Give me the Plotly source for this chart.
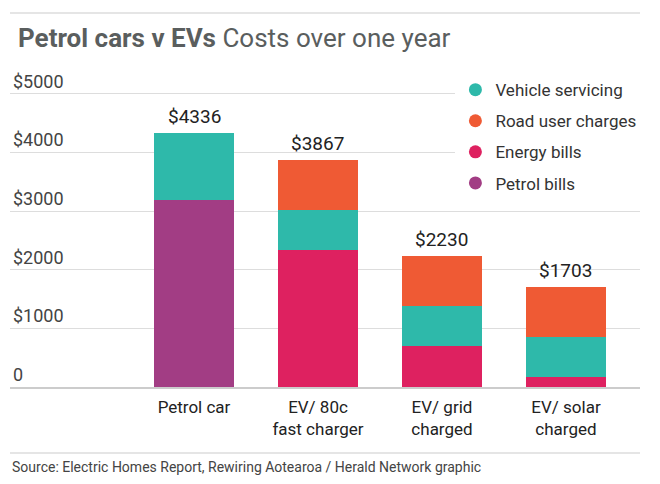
import plotly.graph_objects as go

categories = ["Petrol car", "EV/ 80c<br>fast charger", "EV/ grid<br>charged", "EV/ solar<br>charged"]
petrol_bills = [3186, 0, 0, 0]
energy_bills = [0, 2341, 704, 177]
vehicle_servicing = [1150, 680, 680, 680]
road_user_charges = [0, 846, 846, 846]
totals = [4336, 3867, 2230, 1703]
tick_vals = [0, 1000, 2000, 3000, 4000, 5000]
tick_text = ["0", "$1000", "$2000", "$3000", "$4000", "$5000"]

C_TEAL = "#2EB9AA"
C_ORANGE = "#EF5A34"
C_PINK = "#DE2160"
C_PURPLE = "#A23D84"

FONT = "Roboto, 'Liberation Sans', sans-serif"

fig = go.Figure()
stack = [("Petrol bills", petrol_bills, C_PURPLE),
         ("Energy bills", energy_bills, C_PINK),
         ("Vehicle servicing", vehicle_servicing, C_TEAL),
         ("Road user charges", road_user_charges, C_ORANGE)]
for name, vals, col in stack:
    fig.add_trace(go.Bar(x=categories, y=vals, name=name, marker=dict(color=col, line=dict(width=0)),
                         width=0.645, showlegend=False))

legend_items = [("Vehicle servicing", C_TEAL), ("Road user charges", C_ORANGE),
                ("Energy bills", C_PINK), ("Petrol bills", C_PURPLE)]
for i, (name, col) in enumerate(legend_items):
    fig.add_trace(go.Scatter(x=[None], y=[None], mode="markers", name=name,
                             marker=dict(color=col, size=13, symbol="circle"),
                             legendgroup=f"g{i}", legendrank=i + 1))

for c, t in zip(categories, totals):
    fig.add_annotation(x=c, y=t, text=f"${t}", showarrow=False, yanchor="bottom", yshift=3,
                       font=dict(family=FONT, size=19, color="#222222"))

fig.add_annotation(xref="paper", yref="paper", x=0.0, y=-0.2446, xanchor="left", yanchor="middle",
                   text="Source: Electric Homes Report, Rewiring Aotearoa / Herald Network graphic",
                   showarrow=False, font=dict(family=FONT, size=14, color="#444444"))

fig.add_shape(type="line", xref="paper", yref="paper", x0=0, x1=1, y0=1.1437, y1=1.1437,
              line=dict(color="#dddddd", width=1.5))
fig.add_shape(type="line", xref="paper", yref="paper", x0=0, x1=1, y0=-0.2018, y1=-0.2018,
              line=dict(color="#dddddd", width=1.5))

fig.update_layout(
    width=660, height=484,
    barmode="stack",
    paper_bgcolor="white", plot_bgcolor="white",
    margin=dict(l=10, r=20, t=60, b=97),
    title=dict(text="<b>Petrol cars v EVs</b> Costs over one year", x=18 / 660, xanchor="left",
               y=1 - 38 / 484, yanchor="middle", xref="container", yref="container",
               font=dict(family=FONT, size=26, color="#5a5e5e")),
    legend=dict(x=0.707, y=0.963, xanchor="left", yanchor="top", bgcolor="white",
                font=dict(family=FONT, size=17, color="#333333"), traceorder="grouped",
                tracegroupgap=6, itemwidth=30),
    showlegend=True,
    xaxis=dict(range=[-1.484, 3.597], showgrid=False, showline=True, linecolor="#cccccc",
               linewidth=1.5, ticks="", ticklabelstandoff=4,
               tickfont=dict(family=FONT, size=17, color="#222222"),
               fixedrange=True),
    yaxis=dict(range=[0, 5580], tickvals=tick_vals, ticktext=tick_text, showgrid=True,
               gridcolor="#dddddd", gridwidth=1, zeroline=False, showline=False,
               ticklabelposition="inside top", ticks="",
               tickfont=dict(family=FONT, size=18, color="#444444")),
)

fig.write_html("out.html", config={"displayModeBar": False},
               post_script="document.body.style.margin='0';")
